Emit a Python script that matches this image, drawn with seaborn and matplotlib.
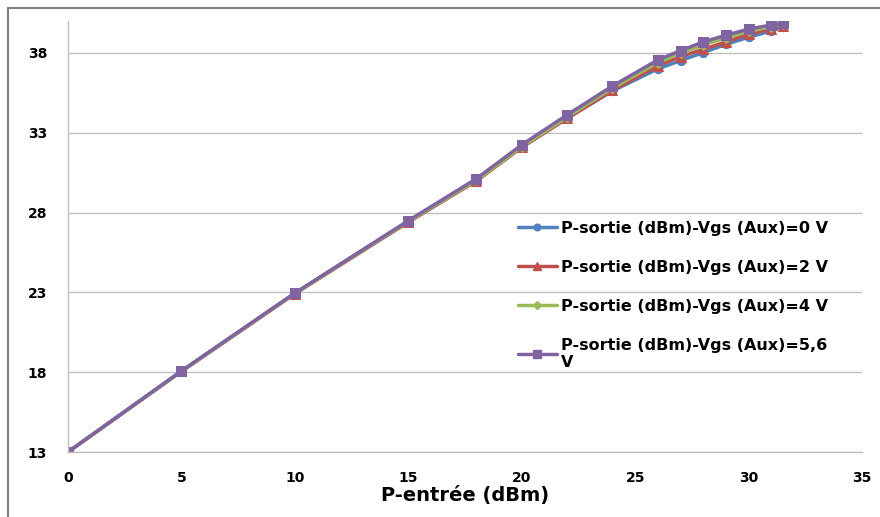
import numpy as np
import pandas as pd
import seaborn as sns
import matplotlib.pyplot as plt
from matplotlib.lines import Line2D

## Data
p_in = [0, 5, 10, 15, 18, 20, 22, 24, 26, 27, 28, 29, 30, 31, 31.5]
p_out_0v = [13.0, 18.05, 22.92, 27.42, 30.0, 32.1, 33.9, 35.62, 37.0, 37.52, 38.02, 38.54, 38.98, 39.38, 39.61]
p_out_2v = [13.0, 18.05, 22.92, 27.4, 29.98, 32.08, 33.9, 35.65, 37.2, 37.77, 38.23, 38.69, 39.17, 39.5, 39.69]
p_out_4v = [13.0, 18.06, 22.94, 27.44, 30.02, 32.12, 33.98, 35.8, 37.39, 37.98, 38.5, 38.95, 39.35, 39.65, 39.8]
p_out_56v = [13.0, 18.08, 22.96, 27.49, 30.12, 32.24, 34.12, 35.93, 37.56, 38.14, 38.69, 39.11, 39.49, 39.75, 39.86]

labels = ["P-sortie (dBm)-Vgs (Aux)=0 V",
          "P-sortie (dBm)-Vgs (Aux)=2 V",
          "P-sortie (dBm)-Vgs (Aux)=4 V",
          "P-sortie (dBm)-Vgs (Aux)=5,6\nV"]
colors = ["#4F81BD", "#C0504D", "#9BBB59", "#8064A2"]
markers = ["o", "^", "D", "s"]
msizes = [6, 7, 5, 7]

series = [p_out_0v, p_out_2v, p_out_4v, p_out_56v]
df = pd.concat([pd.DataFrame({"p_in": p_in, "p_out": s, "serie": lab})
                for s, lab in zip(series, labels)])

sns.set_style("white")
plt.rcParams["text.color"] = "black"
plt.rcParams["xtick.color"] = "black"
plt.rcParams["ytick.color"] = "black"
plt.rcParams["axes.labelcolor"] = "black"

fig = plt.figure(figsize=(8.8, 5.17), dpi=100)
ax = fig.add_axes([68 / 880, 1 - 452 / 517, 794 / 880, 431 / 517])

for lab, col, mk, ms in zip(labels, colors, markers, msizes):
    sub = df[df.serie == lab]
    sns.lineplot(data=sub, x="p_in", y="p_out", ax=ax, color=col, marker=mk,
                 markersize=ms, markeredgecolor=col, linewidth=2.5,
                 label=lab, sort=False)

ax.set_xlim(0, 35)
ax.set_ylim(13, 40)
ax.set_xticks(range(0, 36, 5))
ax.set_yticks(range(13, 39, 5))
ax.grid(axis="y", color="#bfbfbf", linewidth=1)
ax.set_axisbelow(True)

for s in ["top", "right"]:
    ax.spines[s].set_visible(False)
for s in ["left", "bottom"]:
    ax.spines[s].set_color("#bfbfbf")
    ax.spines[s].set_linewidth(1)

ax.tick_params(axis="both", direction="out", length=5, color="#bfbfbf",
               labelcolor="black", labelsize=10)
ax.tick_params(axis="y", pad=10)
ax.tick_params(axis="x", pad=9)
for t in ax.get_xticklabels() + ax.get_yticklabels():
    t.set_fontweight("bold")
    t.set_family("DejaVu Sans")
ax.set_xlabel("P-entrée (dBm)", fontsize=14, fontweight="bold",
              family="DejaVu Sans", color="black")
ax.xaxis.set_label_coords(0.5, -44 / 431, transform=ax.transAxes)
ax.xaxis.label.set_va("center")
ax.set_ylabel("")

handles = [Line2D([], [], color=c, marker=m, markersize=ms * 0.8,
                  markeredgecolor=c, linewidth=2.5)
           for c, m, ms in zip(colors, markers, msizes)]
leg = ax.legend(handles, labels, loc="upper left",
                bbox_to_anchor=(0.549, 0.57), frameon=False,
                prop={"family": "DejaVu Sans", "weight": "bold", "size": 11.5},
                handlelength=2.4, handletextpad=0.25, labelspacing=1.5)
for t in leg.get_texts():
    t.set_color("black")

# outer chart frame (top and left edges visible)
fig.add_artist(Line2D([8 / 880, 1], [1 - 8 / 517, 1 - 8 / 517],
                      transform=fig.transFigure, color="#7f7f7f", linewidth=1.5))
fig.add_artist(Line2D([8 / 880, 8 / 880], [0, 1 - 8 / 517],
                      transform=fig.transFigure, color="#7f7f7f", linewidth=1.5))

fig.savefig("out.png", dpi=100)
